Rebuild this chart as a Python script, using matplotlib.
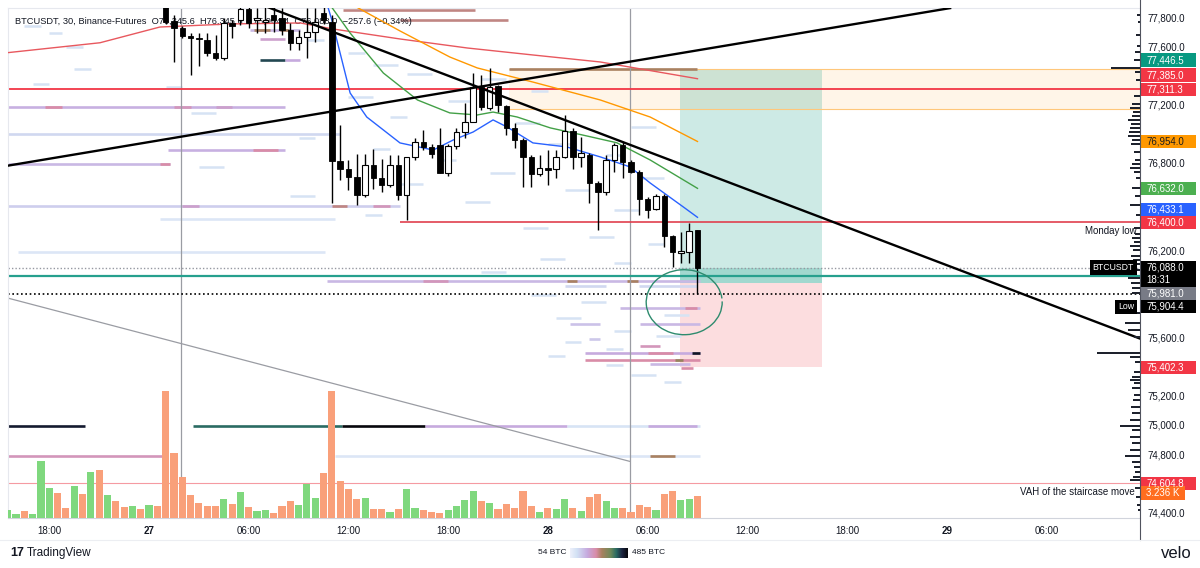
import matplotlib.pyplot as plt
import numpy as np
from matplotlib.colors import LinearSegmentedColormap
from matplotlib.patches import Arc, Rectangle

plt.rcParams['font.family'] = ['Liberation Sans', 'DejaVu Sans']

W, H = 1200, 568

# x = bar index (30 min bars), 0 = 27 00:00
T_MIN, T_MAX = -16.97, 119.25
P_MIN, P_MAX = 74367.8, 77870.7

# ---- candles (bars 2..66) ----
candle_t = list(range(2, 67))
opens = [77900, 77783, 77731, 77678, 77660, 77651, 77560, 77525, 77770, 77788,
         77862, 77790, 77775, 77823, 77800, 77720, 77628, 77674, 77708, 77838,
         77777, 76822, 76763, 76708, 76586, 76792, 76701, 76655, 76792, 76586,
         76845, 76952, 76918, 76930, 76740, 76925, 77021, 77090, 77326, 77182,
         77335, 77198, 77044, 76964, 76845, 76731, 76770, 76763, 76845, 77026,
         76849, 76861, 76667, 76609, 76827, 76930, 76815, 76746, 76557, 76488,
         76580, 76305, 76190, 76197, 76345.6]
highs = [77950, 77823, 77745, 77701, 77701, 77701, 77685, 77800, 77790, 77900,
         77900, 77870, 77880, 77890, 77870, 77766, 77720, 77870, 77870, 77900,
         77820, 77067, 76827, 76868, 76868, 76903, 76834, 76861, 76861, 76850,
         76978, 77033, 76940, 77045, 76935, 77047, 77216, 77422, 77411, 77457,
         77345, 77205, 77079, 76976, 76861, 76861, 76895, 76895, 77136, 77045,
         76987, 76873, 76680, 76861, 76941, 76952, 76830, 76760, 76575, 76591,
         76591, 76312, 76334, 76392, 76345.6]
lows = [77760, 77502, 77665, 77411, 77475, 77543, 77514, 77514, 77667, 77755,
        77731, 77700, 77700, 77708, 77685, 77582, 77582, 77525, 77640, 77760,
        76529, 76689, 76621, 76518, 76570, 76628, 76609, 76640, 76552, 76415,
        76830, 76895, 76840, 76735, 76717, 76905, 76976, 77085, 77170, 77170,
        77158, 76998, 76907, 76639, 76639, 76720, 76655, 76701, 76840, 76763,
        76781, 76529, 76346, 76586, 76746, 76701, 76740, 76449, 76426, 76480,
        76231, 76094, 76117, 76117, 75904.4]
closes = [77777, 77731, 77678, 77663, 77655, 77560, 77525, 77766, 77747, 77862,
          77770, 77800, 77790, 77788, 77720, 77628, 77674, 77708, 77777, 77788,
          76820, 76763, 76708, 76586, 76792, 76701, 76655, 76792, 76586, 76845,
          76952, 76918, 76868, 76740, 76925, 77021, 77090, 77326, 77189, 77326,
          77205, 77049, 76964, 76845, 76731, 76770, 76760, 76845, 77026, 76849,
          76872, 76667, 76609, 76827, 76930, 76815, 76746, 76557, 76483, 76580,
          76305, 76197, 76200, 76341, 76088.0]

# ---- volume (bars -17..66) ----
vol_t = list(range(-17, 67))
volumes = [1220, 590, 1070, 590, 8420, 4410, 3720, 1510, 4700, 3530,
           6720, 7010, 3430, 2540, 1620, 1720, 1320, 1910, 1720, 18670,
           9510, 6030, 3430, 2210, 1720, 1720, 2840, 2010, 3820, 1620,
           980, 1180, 740, 1720, 2450, 1910, 5040, 2940, 6570, 18670,
           5390, 4220, 2840, 2940, 1320, 1320, 880, 1320, 4260, 1510,
           1220, 880, 780, 1220, 1810, 2600, 3920, 2450, 2210, 1320,
           2010, 1510, 4010, 1810, 880, 1430, 1320, 2840, 1510, 1070,
           3090, 3530, 2540, 1510, 1510, 880, 1910, 1620, 1130, 3530,
           4010, 2650, 2790, 3236]
vol_up = [1, 1, 0, 1, 1, 1, 0, 0, 1, 0, 1, 0, 1, 0, 0, 1, 0, 1, 0, 0,
          0, 0, 0, 0, 0, 0, 1, 0, 1, 0, 1, 1, 0, 0, 0, 1, 1, 1, 0, 0,
          0, 0, 0, 1, 0, 0, 1, 0, 1, 1, 0, 0, 0, 1, 1, 1, 1, 0, 1, 0,
          0, 0, 0, 0, 1, 0, 1, 1, 0, 1, 0, 0, 1, 1, 0, 0, 0, 0, 1, 0,
          0, 1, 1, 0]

# ---- moving averages (bar, price) ----
ma_red_t = [-17.0, -5.9, 1.3, 9.7, 18.2, 22.1, 30.2, 38.3, 46.2, 54.3, 66]
ma_red_p = [77564, 77632, 77740, 77761, 77768, 77727, 77658, 77596, 77548, 77500, 77385]
ma_orange_t = [23.0, 30.2, 36.2, 39.5, 46.2, 54.3, 60.3, 66]
ma_orange_p = [77939, 77713, 77534, 77459, 77362, 77239, 77122, 76954]
ma_green_t = [21.2, 24.2, 28.2, 32.3, 36.2, 39.5, 41.4, 44.3, 48.3, 52.2, 56.3, 60.3, 66]
ma_green_p = [77939, 77699, 77424, 77239, 77150, 77136, 77156, 77122, 77047, 76998, 76945, 76827, 76632]
ma_blue_t = [21.2, 22.0, 24.2, 26.2, 30.2, 34.2, 36.6, 39.0, 41.4, 43.1, 46.2, 50.3, 54.3, 57.9, 60.3, 64.3, 66]
ma_blue_p = [77939, 77788, 77287, 77122, 76944, 76895, 76964, 77019, 77102, 77053, 76944, 76916, 76848, 76779, 76669, 76504, 76433.1]

# ---- drawings ----
trend_down_t = [13.95, 119.25]
trend_down_p = [77884, 75600]
trend_up_t = [-16.97, 96.4]
trend_up_p = [76788, 77870]
trend_gray_t = [-16.97, 57.9]
trend_gray_p = [75878, 74756]
vline_t = [3.9, 57.9]

level_red = 77311.3
monday_low = 76400.0
monday_low_start = 30.2
vah_level = 74604.8
teal_level = 76030
last_price = 76088.0
low_price = 75904.4

entry = 75981.0
target = 77446.5
stop = 75402.3
pos_t0, pos_t1 = 63.9, 81.0

zone_t0 = 43.3
zone_lo, zone_hi = 77175, 77455

circle_t, circle_p = 64.4, 75850

# ---- liquidity heatmap segments (price, start bar, end bar, intensity) ----
heat_p = [77860, 77788, 77720, 77720, 77720, 77657, 77514, 77514, 77455,
          77191, 77191, 77191, 77191, 77005, 76895, 76895, 76800, 76800,
          76511, 76511, 76511, 76511, 76422, 76196,
          75997, 75997, 75997, 75997, 75960, 75960, 75807, 75807, 75697, 75697,
          75600, 75550, 75500, 75500, 75500, 75452, 75452, 75425, 75395,
          75000, 75000, 75000, 75000, 75000, 75000, 74796, 74796, 74796]
heat_t0 = [23.3, 30.2, 12.2, 12.6, 15.8, 13.4, 13.4, 16.4, 43.3,
           -17.0, -12.5, 3.0, 8.0, -17.0, 2.3, 12.5, -17.0, 1.3,
           -17.0, 22.0, 27.0, 4.0, 1.3, -15.8,
           21.4, 50.3, 57.5, 33.0, 50.0, 59.0, 56.7, 64.5, 50.6, 59.1,
           53.0, 59.1, 52.5, 60.0, 65.3, 52.5, 63.3, 60.3, 64.0,
           -17.0, 5.3, 23.2, 33.2, 50.3, 60.0, -17.0, 22.4, 60.3]
heat_t1 = [39.2, 43.2, 18.2, 14.6, 16.8, 16.4, 16.4, 18.2, 66.0,
           16.4, -10.5, 5.0, 10.0, 23.0, 16.4, 15.5, 2.5, 2.5,
           30.2, 23.8, 29.0, 6.0, 22.4, 21.2,
           66.3, 51.5, 58.9, 36.0, 55.0, 66.0, 66.3, 66.0, 54.3, 66.3,
           54.3, 61.5, 66.3, 63.0, 66.3, 66.3, 64.3, 65.1, 65.5,
           -7.7, 23.2, 33.2, 50.3, 66.3, 66.0, 2.2, 66.3, 63.3]
heat_lvl = [0.5, 0.5, 0.25, 0.55, 0.55, 0.35, 0.85, 0.3, 0.55,
            0.28, 0.45, 0.4, 0.35, 0.15, 0.28, 0.45, 0.25, 0.45,
            0.18, 0.5, 0.4, 0.35, 0.08, 0.08,
            0.25, 0.55, 0.55, 0.4, 0.15, 0.15, 0.25, 0.45, 0.22, 0.25,
            0.2, 0.4, 0.3, 0.45, 0.95, 0.45, 0.6, 0.25, 0.45,
            0.93, 0.8, 1.0, 0.3, 0.1, 0.3, 0.4, 0.08, 0.55]

# faint order-book dashes
dash_p = [77750, 77700, 77650, 77600, 77560, 77480, 77450, 77420, 77380, 77350,
          77330, 77300, 77260, 77230, 77150, 77120, 77080, 77050, 76980, 76940,
          76900, 76860, 76830, 76780, 76740, 76700, 76660, 76620, 76580, 76540,
          76480, 76450, 76360, 76300, 76250, 76150, 76120, 76060, 75900, 75850,
          75760, 75740, 75650, 75620, 75580, 75530, 75480, 75420, 75350, 75300]
dash_t = [-15, -12, 19, -10, 24, 27, -9, 31, 40, -14,
          2, 46, 24, 36, 5, 29, 44, 58, 18, 48,
          27, 55, 35, 6, 41, 59, 30, 50, 17, 38,
          56, 26, 45, 53, 60, 47, 56, 40, 46, 52,
          62, 49, 56, 61, 50, 55, 48, 55, 58, 62]
dash_len = [2, 1.5, 2, 2, 2, 3, 2, 3, 3, 2,
            2, 2, 3, 3, 3, 2, 3, 3, 2, 3,
            2, 2, 2, 3, 3, 3, 3, 3, 3, 3,
            3, 2, 3, 3, 2, 3, 2, 3, 3, 3,
            3, 3, 2, 3, 2, 2, 2, 2, 3, 2]

# ---- visible-range volume profile (price, size) ----
vp_prices = [77823, 77775, 77685, 77610, 77569, 77514, 77459, 77431, 77376, 77266,
             77211, 77184, 77156, 77129, 77102, 77074, 77047, 77019, 76992, 76964,
             76937, 76882, 76827, 76799, 76772, 76744, 76703, 76634, 76579, 76518,
             76449, 76360, 76319, 76291, 76264, 76236, 76209, 76168, 76140, 76113,
             76071, 76016, 75981, 75947, 75912, 75775, 75706, 75658, 75610, 75502,
             75474, 75439, 75370, 75336, 75315, 75295, 75260, 75212, 75178, 75130,
             75089, 75041, 75002, 74972, 74924, 74883, 74835, 74796, 74753, 74718,
             74684, 74650, 74629, 74574, 74512, 74457, 74423]
vp_sizes = [3, 2, 4, 3, 5, 6, 29, 5, 4, 6,
            8, 10, 7, 8, 12, 9, 10, 11, 12, 8,
            9, 6, 5, 8, 10, 6, 4, 8, 5, 10,
            4, 6, 5, 8, 6, 10, 7, 9, 7, 10,
            8, 12, 9, 8, 8, 10, 15, 12, 6, 43,
            10, 5, 6, 8, 10, 6, 8, 6, 7, 9,
            8, 10, 20, 8, 10, 8, 10, 15, 8, 6,
            5, 7, 10, 5, 4, 3, 2]

# ---- price scale labels ----
lab_prices = [77446.5, 77385.0, 77311.3, 76954.0, 76632.0, 76433.1, 76400.0,
              76088.0, 75981.0, 75904.4, 75402.3, 74604.8]
lab_colors = ['#089981', '#f23645', '#f23645', '#ff9800', '#4caf50', '#2962ff',
              '#f23645', '#000000', '#787b86', '#000000', '#f23645', '#f23645']
lab_text_colors = ['white'] * 3 + ['#1e1e1e'] + ['white'] * 8
lab_nudge_px = [-9.7, -3.7, 0, 0, 0, -7.8, 0, 0, 10.2, 12.4, 0, 0]
countdown = '18:31'
vol_label = '3.236 K'

y_ticks = list(range(74400, 77801, 200))
x_ticks = [-12, 0, 12, 24, 36, 48, 60, 72, 84, 96, 108]
x_labels = ['18:00', '27', '06:00', '12:00', '18:00', '28', '06:00', '12:00', '18:00', '29', '06:00']

header = ('BTCUSDT, 30, Binance-Futures  O76,345.6  H76,345.6  L75,904.4  '
          'C76,088.0  \u2212257.6 (\u22120.34%)')

heat_cmap = LinearSegmentedColormap.from_list('heat', [
    (0.0, '#eef0fb'), (0.12, '#d2e1f4'), (0.3, '#c6a9de'), (0.45, '#d98ca8'),
    (0.55, '#a98160'), (0.7, '#6f8a5a'), (0.8, '#2a6b63'), (0.9, '#1b2440'),
    (1.0, '#07070c')])


def px_rect(x0, y0, x1, y1):
    return [x0 / W, 1 - y1 / H, (x1 - x0) / W, (y1 - y0) / H]


fig = plt.figure(figsize=(W / 100, H / 100), dpi=100)
fig.patch.set_facecolor('white')

plot_rect = px_rect(8, 8, 1140, 518)
ax = fig.add_axes(plot_rect)
ax.set_xlim(T_MIN, T_MAX)
ax.set_ylim(P_MIN, P_MAX)
upp = (P_MAX - P_MIN) / 510.0   # price units per pixel
tpp = (T_MAX - T_MIN) / 1132.0  # bars per pixel


def price_to_fig_y(p):
    # plot spans pixel rows 8..518 of the figure
    return 1 - (518 - (p - P_MIN) / upp) / H


for s in ['left', 'top']:
    ax.spines[s].set_color('#e6e8ee')
    ax.spines[s].set_linewidth(0.8)
ax.spines['right'].set_visible(False)
ax.spines['bottom'].set_color('#d1d4dc')
ax.set_yticks([])
ax.set_xticks(x_ticks)
ax.set_xticklabels(x_labels)
ax.tick_params(axis='x', length=0, pad=6, labelsize=7, colors='#131722')
for lbl in ax.get_xticklabels():
    if ':' not in lbl.get_text():
        lbl.set_fontweight('bold')

# position zones
ax.add_patch(Rectangle((zone_t0, zone_lo), T_MAX - zone_t0, zone_hi - zone_lo,
                       facecolor='#ff9800', alpha=0.09, edgecolor='none', zorder=0.5))
ax.hlines([zone_lo, zone_hi], zone_t0, T_MAX, color='#ffc77a', lw=0.8, zorder=0.6)
ax.add_patch(Rectangle((pos_t0, entry), pos_t1 - pos_t0, target - entry,
                       facecolor='#089981', alpha=0.2, edgecolor='none', zorder=0.5))
ax.add_patch(Rectangle((pos_t0, entry), pos_t1 - pos_t0, last_price - entry,
                       facecolor='#089981', alpha=0.22, edgecolor='none', zorder=0.55))
ax.add_patch(Rectangle((pos_t0, stop), pos_t1 - pos_t0, entry - stop,
                       facecolor='#f23645', alpha=0.17, edgecolor='none', zorder=0.5))

# heatmap
for p, a, b in zip(dash_p, dash_t, dash_len):
    ax.plot([a, a + b], [p, p], color='#d6e3f4', lw=1.8, solid_capstyle='butt', zorder=0.8)
for p, a, b, lv in zip(heat_p, heat_t0, heat_t1, heat_lvl):
    ax.plot([a, b], [p, p], color=heat_cmap(lv), lw=1.9, solid_capstyle='butt', zorder=0.9)

# vertical separators and thin gray trendline
for vt in vline_t:
    ax.axvline(vt, color='#9a9ca3', lw=0.9, zorder=1)
ax.plot(trend_gray_t, trend_gray_p, color='#9a9ca3', lw=0.9, zorder=1)

# horizontal levels
ax.axhline(level_red, color='#f23645', lw=1.3, zorder=2)
ax.hlines(monday_low, monday_low_start, T_MAX, color='#e0404e', lw=1.2, zorder=2)
ax.axhline(vah_level, color='#f59aa2', lw=0.8, zorder=2)
ax.axhline(teal_level, color='#26a08e', lw=1.6, zorder=2)
ax.axhline(last_price, color='#9598a1', lw=1.0, ls=(0, (1, 1.5)), zorder=2)
ax.axhline(low_price, color='#000000', lw=1.2, ls=(0, (1, 1.6)), zorder=2)

# moving averages
ax.plot(ma_red_t, ma_red_p, color='#e8585e', lw=1.0, zorder=3)
ax.plot(ma_orange_t, ma_orange_p, color='#ff9800', lw=1.0, zorder=3)
ax.plot(ma_green_t, ma_green_p, color='#43a047', lw=1.0, zorder=3)
ax.plot(ma_blue_t, ma_blue_p, color='#2962ff', lw=1.0, zorder=3)

# header legend (behind candles)
ax.text((15 - 8) / 1132, 1 - (21 - 8) / 510, header, transform=ax.transAxes,
        fontsize=6.7, color='#131722', va='center', ha='left', zorder=2.5)

# candles
o = np.array(opens)
c = np.array(closes)
ct = np.array(candle_t)
up = c >= o
ax.vlines(ct, lows, highs, color='black', lw=1.0, zorder=4)
bottoms = np.minimum(o, c)
heights = np.maximum(np.abs(c - o), upp * 1.2)
ax.bar(ct[up], heights[up], 0.66, bottom=bottoms[up], facecolor='white',
       edgecolor='black', linewidth=0.8, zorder=5)
ax.bar(ct[~up], heights[~up], 0.66, bottom=bottoms[~up], facecolor='black',
       edgecolor='black', linewidth=0.6, zorder=5)

# trendlines
ax.plot(trend_down_t, trend_down_p, color='black', lw=1.7, zorder=6)
ax.plot(trend_up_t, trend_up_p, color='black', lw=1.7, zorder=6)

# hand drawn circle
ax.add_patch(Arc((circle_t, circle_p), 76 * tpp, 65 * upp, theta1=80, theta2=410,
                 color='#2e8b6e', lw=1.0, zorder=6))

# annotations
ax.text(T_MAX - 3 * tpp, monday_low - 9 * upp, 'Monday low', fontsize=7,
        color='#131722', ha='right', va='center', zorder=7)
ax.text(T_MAX - 5 * tpp, vah_level - 9 * upp, 'VAH of the staircase move', fontsize=7,
        color='#131722', ha='right', va='center', zorder=7)

# volume
vax = fig.add_axes(plot_rect, sharex=ax)
vax.set_ylim(0, 510 * 147)
vax.patch.set_visible(False)
vax.axis('off')
vcol = ['#7fd87e' if u else '#f9a07a' for u in vol_up]
vax.bar(vol_t, volumes, 0.86, color=vcol, zorder=2)

# volume profile on the right edge
vpax = fig.add_axes(px_rect(1040, 8, 1140, 518))
vpax.set_ylim(P_MIN, P_MAX)
vpax.set_xlim(100, 0)
vpax.axis('off')
vpax.barh(vp_prices, vp_sizes, height=2.2 * upp, color='#1e222d', zorder=2)

# series / low tags drawn on top of the profile
fig.text(1134 / W, price_to_fig_y(last_price), 'BTCUSDT', fontsize=6.3, color='white',
         ha='right', va='center', zorder=10,
         bbox=dict(boxstyle='square,pad=0.3', fc='black', ec='none'))
fig.text(1134 / W, price_to_fig_y(low_price - 12.4 * upp), 'Low', fontsize=6.3,
         color='white', ha='right', va='center', zorder=10,
         bbox=dict(boxstyle='square,pad=0.3', fc='black', ec='none'))

# price scale
rax = fig.add_axes(px_rect(1140, 8, 1200, 518))
rax.set_ylim(P_MIN, P_MAX)
rax.set_xlim(0, 60)
rax.axis('off')
half = 6.6 * upp
lab_centers = [p - nd * upp for p, nd in zip(lab_prices, lab_nudge_px)]
for yt in y_ticks:
    covered = False
    for p, yc in zip(lab_prices, lab_centers):
        lo = yc - (3 * half if p == last_price else half)
        if lo - 4 * upp < yt < yc + half + 4 * upp:
            covered = True
    if not covered:
        rax.text(7, yt, f'{yt:,.1f}', fontsize=7, color='#131722', va='center', ha='left')
for p, yc, bg, fg in zip(lab_prices, lab_centers, lab_colors, lab_text_colors):
    hgt = 2 * half
    ybot = yc - half
    if p == last_price:
        hgt = 4 * half
        ybot = yc - 3 * half
    rax.add_patch(Rectangle((1, ybot), 55, hgt, facecolor=bg, edgecolor='none', zorder=3))
    rax.text(6, yc, f'{p:,.1f}', fontsize=7, color=fg, va='center', ha='left', zorder=4)
    if p == last_price:
        rax.text(6, yc - 1.85 * half, countdown, fontsize=7, color=fg, va='center',
                 ha='left', zorder=4)
vol_y = P_MIN + (volumes[-1] / 147 + 3) * upp
rax.add_patch(Rectangle((1, vol_y - half), 44, 2 * half, facecolor='#ff6d1f',
                        edgecolor='none', zorder=3))
rax.text(6, vol_y, vol_label, fontsize=7, color='white', va='center', ha='left', zorder=4)

# frame lines
fig.add_artist(plt.Line2D([1140 / W, 1140 / W], [1 - 540 / H, 1], color='#50535e', lw=0.8))
fig.add_artist(plt.Line2D([0, 1], [1 - 540 / H, 1 - 540 / H], color='#eceef2', lw=0.8))

# footer
fig.text(10 / W, 1 - 553 / H, '17', fontsize=9, fontweight='bold', color='#131722',
         va='center', ha='left')
fig.text(27 / W, 1 - 553 / H, 'TradingView', fontsize=8.5, color='#131722',
         va='center', ha='left')
gax = fig.add_axes(px_rect(570, 548, 628, 558))
gax.imshow(np.linspace(0.05, 1, 200)[None, :], aspect='auto', cmap=heat_cmap)
gax.axis('off')
fig.text(566 / W, 1 - 553 / H, '54 BTC', fontsize=6, color='#131722', va='center', ha='right')
fig.text(632 / W, 1 - 553 / H, '485 BTC', fontsize=6, color='#131722', va='center', ha='left')
fig.text(1192 / W, 1 - 553 / H, 'velo', fontsize=12, color='#131722', va='center', ha='right')

fig.savefig('out.png', dpi=100, facecolor='white')
